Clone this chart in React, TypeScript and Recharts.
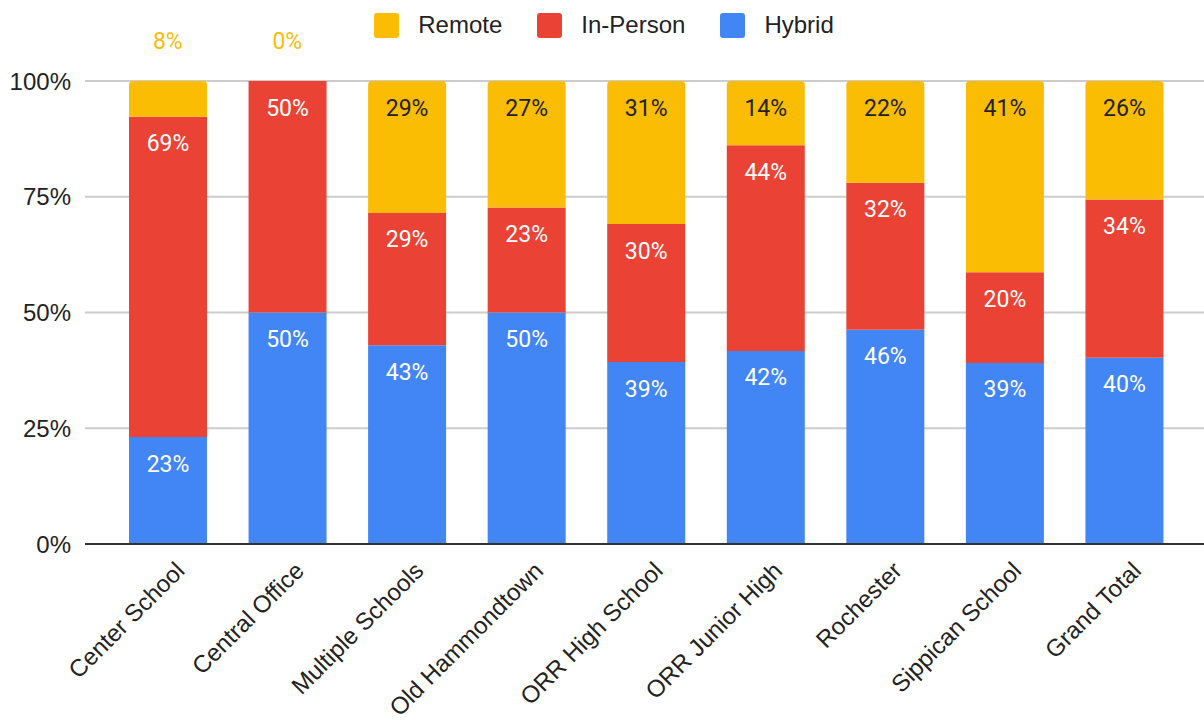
import React from "react";
import { Bar, CartesianGrid, ComposedChart, LabelList, Line, XAxis, YAxis } from "recharts";

const categories = [
  "Center School",
  "Central Office",
  "Multiple Schools",
  "Old Hammondtown",
  "ORR High School",
  "ORR Junior High",
  "Rochester",
  "Sippican School",
  "Grand Total",
];
const hybrid = [23.1, 50, 42.9, 50, 39.3, 41.7, 46.3, 39.1, 40.2];
const inPerson = [69.2, 50, 28.6, 22.7, 29.8, 44.4, 31.7, 19.6, 34.2];
const remote = [7.7, 0, 28.5, 27.3, 30.9, 13.9, 22.0, 41.3, 25.6];
const yTicks = [0, 25, 50, 75, 100];

const COLORS = { remote: "#FBBC04", inPerson: "#EA4335", hybrid: "#4285F4" };
const LEGEND = [
  { key: "remote", label: "Remote", color: COLORS.remote },
  { key: "inPerson", label: "In-Person", color: COLORS.inPerson },
  { key: "hybrid", label: "Hybrid", color: COLORS.hybrid },
];

const data = categories.map((name, i) => ({
  name,
  hybrid: hybrid[i],
  inPerson: inPerson[i],
  remote: remote[i],
}));

const AXIS_FONT = "'Liberation Sans', Arial, sans-serif";
const LABEL_FONT = "Roboto, 'Liberation Sans', sans-serif";
const SMALL = 10; // en dessous, l'étiquette "Remote" passe au-dessus du graphique

// étiquette en haut du segment
function makeLabel(textColor: string, skipSmall: boolean) {
  return (props: any) => {
    const { x, y, width, value } = props;
    if (value == null) return null;
    if (skipSmall && value < SMALL) return null;
    return (
      <text x={x + width / 2} y={y + 27} textAnchor="middle" dominantBaseline="central"
        fill={textColor} fontSize={23} fontFamily={LABEL_FONT}>
        {Math.round(value)}%
      </text>
    );
  };
}

function OutsideLabel(props: any) {
  const { x, value } = props;
  if (value == null || value >= SMALL) return null;
  return (
    <text x={x} y={41} textAnchor="middle" dominantBaseline="central"
      fill={COLORS.remote} fontSize={23} fontFamily={LABEL_FONT}>
      {Math.round(value)}%
    </text>
  );
}

function XTick(props: any) {
  const { x, y, payload } = props;
  const tx = x + 6;
  const ty = y + 8;
  return (
    <text x={tx} y={ty} dy="0.72em" textAnchor="end" transform={`rotate(-45, ${tx}, ${ty})`}
      fill="#222" fontSize={24} fontFamily={AXIS_FONT}>
      {payload.value}
    </text>
  );
}

function YTick(props: any) {
  const { x, y, payload } = props;
  return (
    <text x={x - 6} y={y} textAnchor="end" dominantBaseline="central"
      fill="#222" fontSize={24} fontFamily={AXIS_FONT}>
      {payload.value}%
    </text>
  );
}

function ChartLegend() {
  return (
    <div style={{ position: "absolute", top: 11, left: 0, width: 1204, display: "flex", justifyContent: "center", alignItems: "center", fontFamily: AXIS_FONT, fontSize: 24, color: "#222", paddingLeft: 4, boxSizing: "border-box" }}>
      {LEGEND.map((l, i) => (
        <div key={l.key} style={{ display: "flex", alignItems: "center", marginRight: i < LEGEND.length - 1 ? 35 : 0 }}>
          <span style={{ width: 25, height: 25, borderRadius: 3, background: l.color, display: "inline-block", marginRight: 19 }} />
          <span>{l.label}</span>
        </div>
      ))}
    </div>
  );
}

export default function App() {
  return (
    <div style={{ position: "absolute", left: 0, top: 0, width: 1204, height: 723, background: "#fff" }}>
      <ComposedChart
        width={1204}
        height={723}
        data={data}
        margin={{ top: 81, right: 0, left: 0, bottom: 9 }}
      >
        <CartesianGrid vertical={false} stroke="#ccc" strokeWidth={2} />
        <XAxis dataKey="name" interval={0} height={170} tickLine={false}
          axisLine={{ stroke: "#333", strokeWidth: 2 }} padding={{ left: 23, right: 20 }}
          tick={<XTick />} />
        <YAxis width={85} domain={[0, 100]} ticks={yTicks} tickLine={false} axisLine={false}
          tick={<YTick />} />
        <Bar dataKey="hybrid" stackId="a" fill={COLORS.hybrid} barSize={78} isAnimationActive={false}>
          <LabelList dataKey="hybrid" content={makeLabel("#fff", false)} />
        </Bar>
        <Bar dataKey="inPerson" stackId="a" fill={COLORS.inPerson} barSize={78} isAnimationActive={false}>
          <LabelList dataKey="inPerson" content={makeLabel("#fff", false)} />
        </Bar>
        <Bar dataKey="remote" stackId="a" fill={COLORS.remote} barSize={78} radius={[4, 4, 0, 0]} isAnimationActive={false}>
          <LabelList dataKey="remote" content={makeLabel("#222", true)} />
        </Bar>
        {/* série invisible : porte les petites étiquettes "Remote" au-dessus des barres */}
        <Line dataKey="remote" stroke="none" dot={false} activeDot={false} legendType="none" isAnimationActive={false}>
          <LabelList dataKey="remote" content={<OutsideLabel />} />
        </Line>
      </ComposedChart>
      <ChartLegend />
    </div>
  );
}
